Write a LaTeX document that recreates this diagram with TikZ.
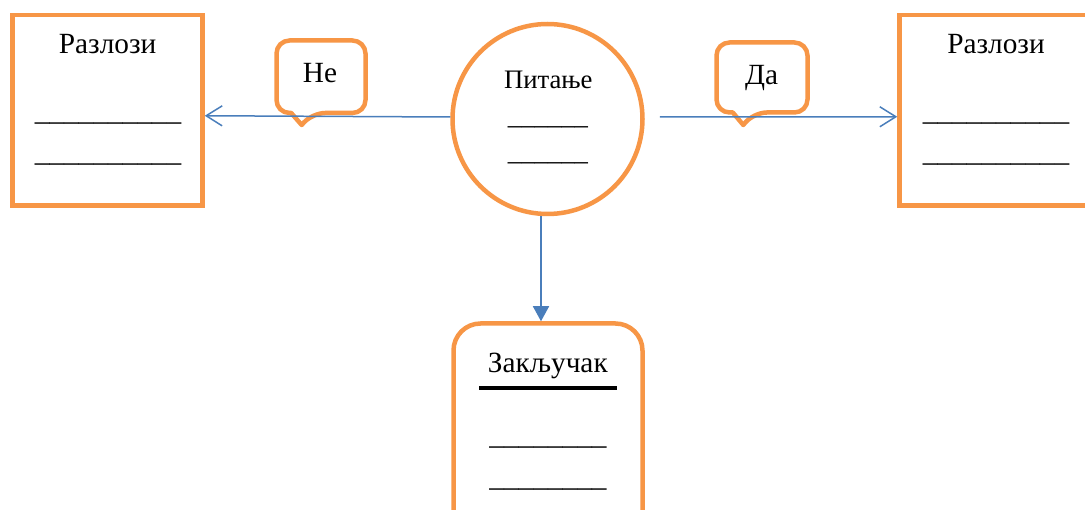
\documentclass[tikz,border=0pt]{standalone}
\usepackage{fontspec}
\setmainfont{Liberation Serif}
\usetikzlibrary{arrows.meta}
\definecolor{frameorange}{RGB}{247,150,70}
\definecolor{linkblue}{RGB}{74,126,187}
\newcommand{\bigtxt}{\fontsize{29.3}{34}\selectfont}
\newcommand{\smalltxt}{\fontsize{26.7}{31}\selectfont}
% speech bubble: left, top, right, bottom, pointer x, pointer depth
\newcommand{\speechbubble}[6]{%
  \draw[bubble] ({(#1+#3)/2},#2) -- (#3,#2) -- (#3,#4)
    -- ({#5+10.5},#4) [sharp corners] -- (#5,{#4+#6}) -- ({#5-10.5},#4)
    [rounded corners=13pt] -- (#1,#4) -- (#1,#2) -- cycle;}
\begin{document}
\begin{tikzpicture}[x=1pt,y=-1pt,
  frame/.style={draw=frameorange, line width=4.5pt, fill=white, inner sep=0pt},
  bubble/.style={draw=frameorange, line width=4.5pt, fill=white, rounded corners=13pt, line join=round},
  lbl/.style={inner sep=0pt, font=\bigtxt, anchor=base},
  slbl/.style={inner sep=0pt, font=\smalltxt, anchor=base},
  link/.style={draw=linkblue, line width=1.5pt},
  openhead/.style={link, -{Straight Barb[length=16pt,width=20pt,line width=1.5pt]}},
  solidhead/.style={link, -{Triangle[length=15pt,width=16pt]}}]
\useasboundingbox (0,0) rectangle (1085,510);

% outline shapes
\node[frame, minimum width=190pt, minimum height=190.5pt] (L) at (107.5,110.25) {};
\node[frame, minimum width=190pt, minimum height=190.5pt] (R) at (994.5,110.25) {};
\node[frame, circle, minimum size=190pt] (C) at (547.5,119) {};
\node[frame, rounded corners=27pt, minimum width=189pt, minimum height=222pt] (K) at (548,434.5) {};

% callouts
\speechbubble{276.5}{40.5}{365.5}{113}{301.7}{12}
\speechbubble{716.5}{42.5}{807.5}{112.5}{743.3}{12.5}

% texts
\node[lbl] (ltitle) at (107.6,53.3) {Разлози};
\node[lbl] (lline1) at (108,121) {\_\_\_\_\_\_\_\_\_\_};
\node[lbl] (lline2) at (108,162) {\_\_\_\_\_\_\_\_\_\_};

\node[lbl] (rtitle) at (996,53.3) {Разлози};
\node[lbl] (rline1) at (996,121) {\_\_\_\_\_\_\_\_\_\_};
\node[lbl] (rline2) at (996,162) {\_\_\_\_\_\_\_\_\_\_};

\node[slbl] (qtitle) at (548.3,88.3) {Питање};
\node[slbl] (qline1) at (548,124.5) {\_\_\_\_\_\_};
\node[slbl] (qline2) at (548,160.5) {\_\_\_\_\_\_};

\node[lbl] (ktitle) at (547.8,372.7) {Закључак};
\draw[line width=3.3pt] (479,388) -- (617,388);
\node[lbl] (kline1) at (548,445) {\_\_\_\_\_\_\_\_};
\node[lbl] (kline2) at (548,487) {\_\_\_\_\_\_\_\_};

\node[lbl] (ne) at (320,83) {Не};
\node[lbl] (da) at (761.7,85) {Да};

% connectors
\draw[openhead] ([yshift=2pt]C.west) -- ([yshift=-5.5pt]L.east);
\draw[openhead] ([xshift=15pt,yshift=2pt]C.east) -- ([yshift=-6.5pt]R.west);
\draw[solidhead] ([xshift=-6.5pt]C.south) -- ([xshift=-7pt]K.north);
\end{tikzpicture}
\end{document}
